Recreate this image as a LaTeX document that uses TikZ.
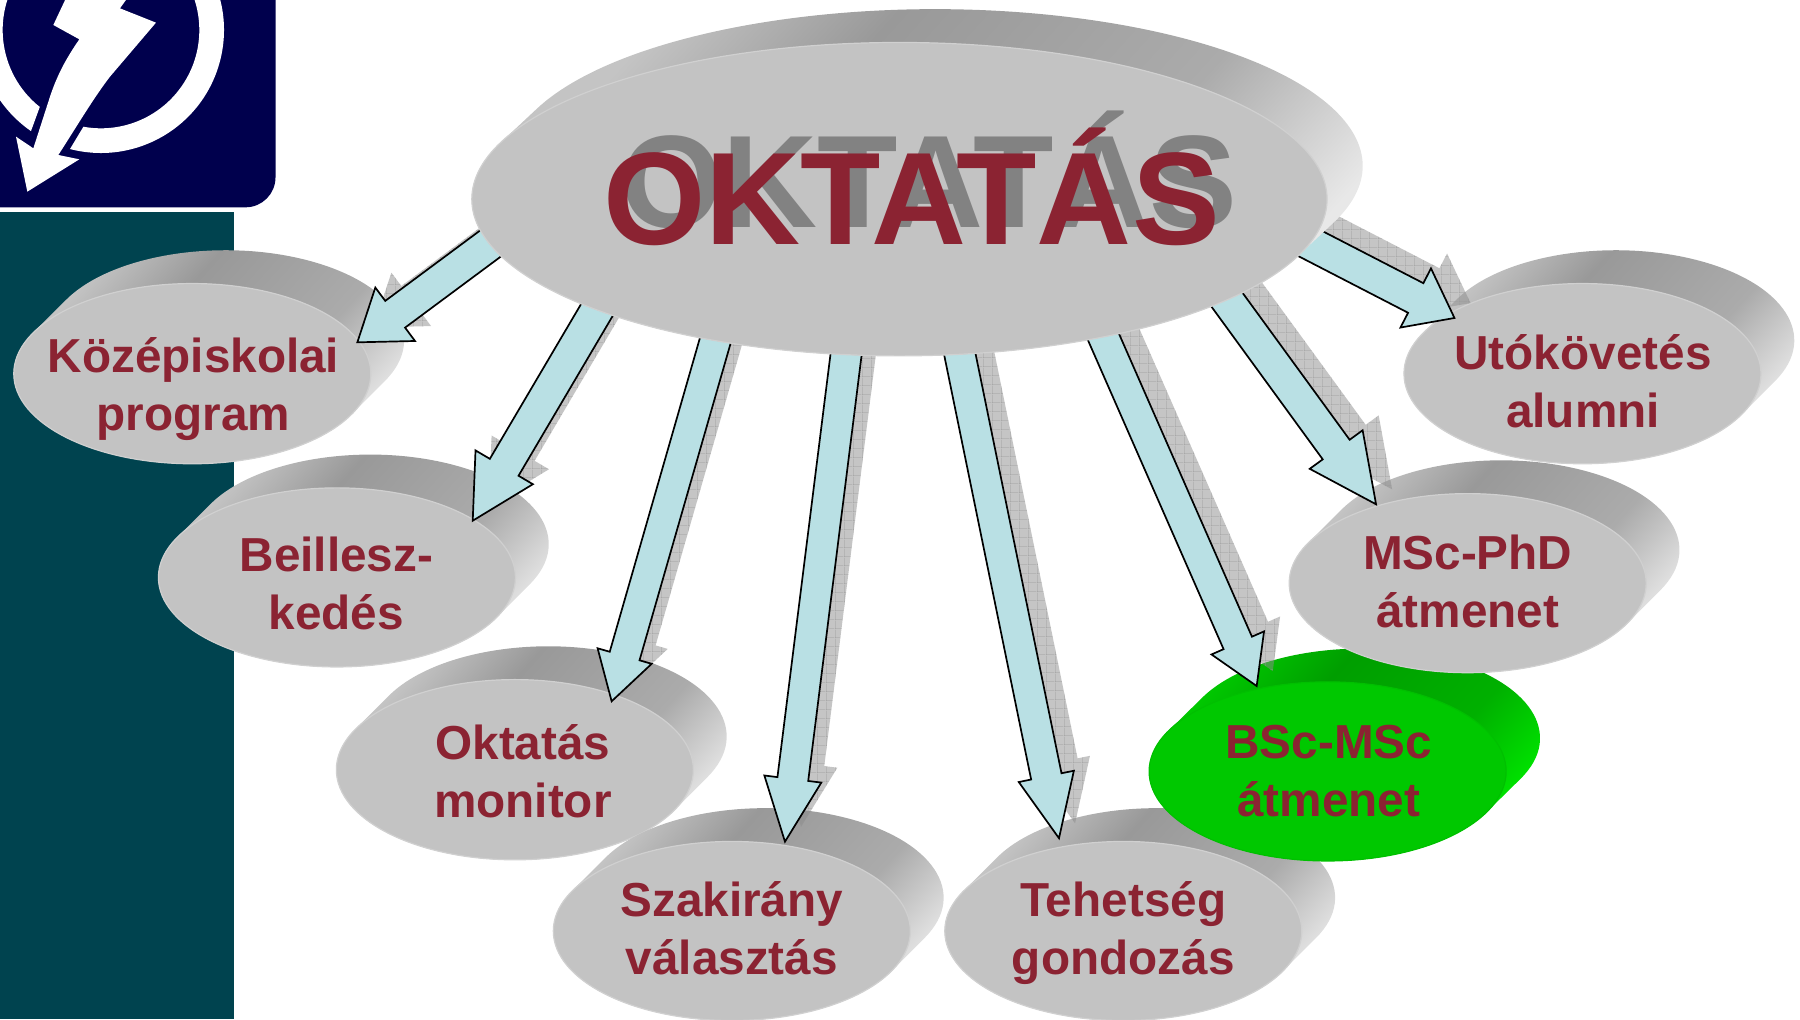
\documentclass[tikz,border=0pt]{standalone}
\usepackage{fontspec}
\setmainfont{Liberation Sans}
\usetikzlibrary{calc,patterns,shapes.geometric}
\definecolor{txtred}{HTML}{8B2332}
\definecolor{navy}{HTML}{00004D}
\definecolor{teal2}{HTML}{00434F}
\definecolor{arrowfill}{HTML}{B9E0E4}
\definecolor{frontgrey}{HTML}{C3C3C3}
\definecolor{frontgreen}{HTML}{00C800}
\definecolor{rimfrontgrey}{HTML}{D0D0D0}
\definecolor{rimfrontgreen}{HTML}{00C000}
\definecolor{ga}{HTML}{C4C4C4}
\definecolor{gb}{HTML}{999999}
\definecolor{gc}{HTML}{ABABAB}
\definecolor{gd}{HTML}{E8E8E8}
\definecolor{ha}{HTML}{00C800}
\definecolor{hb}{HTML}{009E00}
\definecolor{hc}{HTML}{00B000}
\definecolor{hd}{HTML}{00E800}
\pgfdeclarehorizontalshading{greyback}{100bp}{color(0bp)=(ga); color(29bp)=(ga); color(41bp)=(gb); color(60bp)=(gc); color(73bp)=(gd); color(100bp)=(gd)}
\pgfdeclarehorizontalshading{greenback}{100bp}{color(0bp)=(ha); color(29bp)=(ha); color(41bp)=(hb); color(60bp)=(hc); color(73bp)=(hd); color(100bp)=(hd)}
\pgfdeclarepatternformonly{shadowgrid}{\pgfpointorigin}{\pgfqpoint{4.6pt}{4.6pt}}{\pgfqpoint{4.6pt}{4.6pt}}{%
  \pgfsetlinewidth{0.3pt}%
  \pgfpathmoveto{\pgfqpoint{0pt}{0pt}}\pgfpathlineto{\pgfqpoint{4.6pt}{0pt}}%
  \pgfpathmoveto{\pgfqpoint{0pt}{0pt}}\pgfpathlineto{\pgfqpoint{0pt}{4.6pt}}%
  \pgfusepath{stroke}}
\tikzset{
  label text/.style={font=\fontsize{23.85pt}{29pt}\selectfont\bfseries, text=txtred, align=center, inner sep=0pt},
  arrow body/.style={fill=arrowfill, draw=black, line width=0.85pt, line join=miter},
  shadow body/.style={fill=black!45, fill opacity=0.5, draw=none},
  shadow grid/.style={pattern=shadowgrid, pattern color=black!40, draw=none},
}
% name, cx, cy, a, b, dx, dy, back shading, front colour
\newcommand{\discshape}[9]{%
  \pgfmathsetmacro{\tang}{atan(-(#6)*(#5)/((#7)*(#4)))}%
  \path[shading=#8, shading angle=-42]
    ({#2+#6+#4*cos(\tang)},{#3+#7+#5*sin(\tang)})
    arc[start angle=\tang, end angle=\tang-180, x radius=#4, y radius=#5]
    -- ++({-(#6)},{-(#7)})
    arc[start angle=\tang-180, end angle=\tang-360, x radius=#4, y radius=#5]
    -- cycle;
  \node[ellipse, inner sep=0pt, minimum width={2*#4*0.57398pt}, minimum height={2*#5*0.57398pt},
        fill=#9, draw=rim#9, line width=0.6pt] (#1) at (#2,#3) {};
}
% tail, tip, shaft width, head width, head length
\newcommand{\arrowcoords}[5]{%
  \coordinate (x#2) at ($(#2)!1.15!(#1)$);
  \coordinate (b#2) at ($(#2)!{#5*0.57398pt}!(#1)$);
  \coordinate (p1#2) at ($(x#2)!{#3*0.28699pt}!90:(#2)$);
  \coordinate (p2#2) at ($(b#2)!{#3*0.28699pt}!90:(#2)$);
  \coordinate (p3#2) at ($(b#2)!{#4*0.28699pt}!90:(#2)$);
  \coordinate (p5#2) at ($(b#2)!{#4*0.28699pt}!-90:(#2)$);
  \coordinate (p6#2) at ($(b#2)!{#3*0.28699pt}!-90:(#2)$);
  \coordinate (p7#2) at ($(x#2)!{#3*0.28699pt}!-90:(#2)$);
}
\newcommand{\arrowshadow}[1]{%
  \foreach \sty in {shadow body, shadow grid}{
  \path[style=\sty] ($(p1#1)+(14,-13)$) -- ($(p2#1)+(14,-13)$) -- ($(p3#1)+(14,-13)$) -- ($(#1)+(14,-13)$)
    -- ($(p5#1)+(14,-13)$) -- ($(p6#1)+(14,-13)$) -- ($(p7#1)+(14,-13)$) -- cycle;}
}
\newcommand{\arrowbody}[1]{%
  \path[arrow body] (p1#1) -- (p2#1) -- (p3#1) -- (#1) -- (p5#1) -- (p6#1) -- (p7#1) -- cycle;
}
\begin{document}
\begin{tikzpicture}[x=0.57398pt,y=-0.57398pt]
\useasboundingbox (0,0) rectangle (1568,887.7);
% side bar
\fill[teal2] (0,184.4) rectangle (203.8,888);
% logo
\begin{scope}
  \clip (0,0) rectangle (240,180.6);
  \fill[navy, rounded corners=15pt] (-60,-60) rectangle (240,180.6);
  \begin{scope}[scale=0.29036]
    \fill[white] ({303+369*cos(104.6)},{90+369*sin(104.6)})
      arc[start angle=104.6, end angle=-235.3, radius=369]
      -- ({303+295*cos(-231.5)},{90+295*sin(-231.5)})
      arc[start angle=-231.5, end angle=100.3, radius=295] -- cycle;
    \fill[white] (200,-10) -- (160,75) -- (238,118)
      .. controls (195,180) and (170,230) .. (150,290)
      -- (100,445) -- (48,410) -- (82,575) -- (238,478) -- (175,465)
      .. controls (230,380) and (280,295) .. (330,230)
      -- (468,68) -- (360,25) -- (385,-10) -- cycle;
  \end{scope}
\end{scope}
% small discs
\discshape{kozep}{167.5}{325.5}{155.5}{78.5}{29}{-29}{greyback}{frontgrey}
\node[label text] (kozept) at (168.5,339) {Középiskolai\\program};
\discshape{beill}{293.5}{503}{155.5}{78}{29}{-29}{greyback}{frontgrey}
\node[label text] (beillt) at (293,508.5) {Beillesz-\\kedés};
\discshape{monit}{448.5}{670.5}{155.5}{78.5}{29}{-29}{greyback}{frontgrey}
\node[label text] (monitt) at (455.5,671.5) {Oktatás\\monitor};
\discshape{szak}{637.5}{811}{155.5}{78}{29}{-29}{greyback}{frontgrey}
\node[label text] (szakt) at (637.5,808.5) {Szakirány\\választás};
\discshape{tehet}{978.5}{811}{155.5}{78}{29}{-29}{greyback}{frontgrey}
\node[label text] (tehett) at (978.5,813) {Tehetség\\gondozás};
\discshape{bsc}{1156.5}{672}{155.5}{78}{29.5}{-29}{greenback}{frontgreen}
\node[label text] (bsct) at (1157.5,671.5) {BSc-MSc\\átmenet};
\discshape{msc}{1278.5}{508}{155.5}{78}{29}{-29}{greyback}{frontgrey}
\node[label text] (msct) at (1278.5,506.5) {MSc-PhD\\átmenet};
\discshape{uto}{1378.5}{325.5}{155.5}{78.5}{29}{-29}{greyback}{frontgrey}
\node[label text] (utot) at (1379,332) {Utókövetés\\alumni};
% arrow ends
\coordinate (ta) at (426.5,212.7); \coordinate (ha) at (311.3,298.2);
\coordinate (tb) at (519.5,270.8); \coordinate (hb) at (411.8,453.6);
\coordinate (tc) at (623,297);     \coordinate (hc) at (532.8,610.9);
\coordinate (td) at (737,309);     \coordinate (hd) at (683.8,733.2);
\coordinate (te) at (836,308);     \coordinate (he) at (922.5,730.2);
\coordinate (tf) at (961,293);     \coordinate (hf) at (1094.7,597.6);
\coordinate (tg) at (1069.5,262);  \coordinate (hg) at (1198.7,439.3);
\coordinate (th) at (1143,213);    \coordinate (hh) at (1267,277);
\arrowcoords{ta}{ha}{29}{58}{41}
\arrowcoords{tb}{hb}{29}{58}{54}
\arrowcoords{tc}{hc}{27}{49}{41}
\arrowcoords{td}{hd}{27}{50}{55}
\arrowcoords{te}{he}{27}{49}{55}
\arrowcoords{tf}{hf}{27}{50}{41}
\arrowcoords{tg}{hg}{29}{57}{59}
\arrowcoords{th}{hh}{29}{58}{38}
\arrowshadow{ha}\arrowshadow{hb}\arrowshadow{hc}\arrowshadow{hd}
\arrowshadow{he}\arrowshadow{hf}\arrowshadow{hg}\arrowshadow{hh}
\arrowbody{ha}\arrowbody{hb}\arrowbody{hc}\arrowbody{hd}
\arrowbody{he}\arrowbody{hf}\arrowbody{hg}\arrowbody{hh}
% main disc
\discshape{main}{783.5}{173.5}{372.5}{136.5}{31}{-29}{greyback}{frontgrey}
\node[anchor=base, inner sep=0pt, font=\fontsize{65.8pt}{70pt}\selectfont\bfseries, text=black!49] (mains) at (809,198.6) {OKTATÁS};
\node[anchor=base, inner sep=0pt, font=\fontsize{65.8pt}{70pt}\selectfont\bfseries, text=txtred] (maint) at (794,212.6) {OKTATÁS};
\end{tikzpicture}
\end{document}
